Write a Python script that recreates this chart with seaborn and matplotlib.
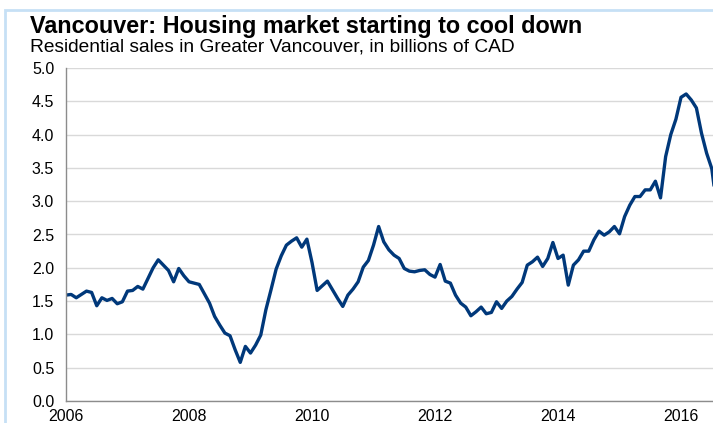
import numpy as np
import pandas as pd
import matplotlib
matplotlib.use("Agg")
import matplotlib.pyplot as plt
from matplotlib.patches import Rectangle
import seaborn as sns

# Monthly residential sales, Greater Vancouver (bn CAD)
years = list(range(2006, 2017))
sales_2006 = [1.59, 1.60, 1.55, 1.60, 1.65, 1.63, 1.43, 1.55, 1.51, 1.54, 1.46, 1.49]
sales_2007 = [1.65, 1.66, 1.72, 1.68, 1.84, 2.00, 2.12, 2.04, 1.96, 1.79, 1.99, 1.88]
sales_2008 = [1.79, 1.77, 1.75, 1.61, 1.47, 1.27, 1.14, 1.02, 0.98, 0.77, 0.58, 0.82]
sales_2009 = [0.72, 0.84, 0.99, 1.37, 1.67, 1.98, 2.18, 2.34, 2.40, 2.45, 2.31, 2.43]
sales_2010 = [2.08, 1.66, 1.73, 1.80, 1.67, 1.54, 1.42, 1.59, 1.68, 1.79, 2.01, 2.11]
sales_2011 = [2.34, 2.62, 2.39, 2.27, 2.19, 2.14, 1.99, 1.95, 1.94, 1.96, 1.97, 1.90]
sales_2012 = [1.86, 2.05, 1.80, 1.77, 1.59, 1.47, 1.41, 1.28, 1.34, 1.41, 1.31, 1.33]
sales_2013 = [1.49, 1.39, 1.50, 1.57, 1.68, 1.78, 2.04, 2.09, 2.16, 2.02, 2.14, 2.38]
sales_2014 = [2.14, 2.19, 1.74, 2.04, 2.12, 2.25, 2.25, 2.42, 2.55, 2.49, 2.54, 2.62]
sales_2015 = [2.51, 2.77, 2.94, 3.07, 3.07, 3.17, 3.17, 3.30, 3.05, 3.67, 4.00, 4.23]
sales_2016 = [4.56, 4.61, 4.52, 4.40, 4.02, 3.72, 3.49, 2.90]

by_year = [sales_2006, sales_2007, sales_2008, sales_2009, sales_2010, sales_2011,
           sales_2012, sales_2013, sales_2014, sales_2015, sales_2016]

rows = []
for yr, vals in zip(years, by_year):
    for m, v in enumerate(vals):
        rows.append({"t": yr + m / 12, "sales": v})
df = pd.DataFrame(rows)

x_ticks = [2006, 2008, 2010, 2012, 2014, 2016]
y_ticks = [0.0, 0.5, 1.0, 1.5, 2.0, 2.5, 3.0, 3.5, 4.0, 4.5, 5.0]

sns.set_style("white")
plt.rcParams["font.family"] = ["Liberation Sans", "DejaVu Sans"]

W, H = 713, 423
fig = plt.figure(figsize=(W / 100, H / 100), dpi=100)
ax = fig.add_axes([66 / W, 22 / H, (W - 66) / W, (401 - 68) / H])

sns.lineplot(data=df, x="t", y="sales", ax=ax, color="#00387a", linewidth=2.4)

ax.set_xlim(2006, 2016.52)
ax.set_ylim(0, 5.0)
ax.set_xticks(x_ticks)
ax.set_xticklabels([str(x) for x in x_ticks])
ax.set_yticks(y_ticks)
ax.set_yticklabels([f"{y:.1f}" for y in y_ticks])
ax.set_xlabel("")
ax.set_ylabel("")

ax.yaxis.grid(True, color="#d9d9d9", linewidth=1.0)
ax.set_axisbelow(True)
for side in ["top", "right"]:
    ax.spines[side].set_visible(False)
for side in ["left", "bottom"]:
    ax.spines[side].set_color("#8c8c8c")
    ax.spines[side].set_linewidth(1.0)
ax.tick_params(axis="y", direction="out", length=4.5, width=0.8,
               color="#8c8c8c", labelsize=11.5, labelcolor="black", pad=4)
ax.tick_params(axis="x", direction="out", length=2.5, width=0.8,
               color="#8c8c8c", labelsize=11.5, labelcolor="black", pad=3)

fig.text(30 / W, 1 - 33 / H, "Vancouver: Housing market starting to cool down",
         fontsize=16.8, fontweight="bold", color="black", ha="left", va="baseline")
fig.text(30 / W, 1 - 52 / H, "Residential sales in Greater Vancouver, in billions of CAD",
         fontsize=13.8, color="black", ha="left", va="baseline")

# light blue frame around the chart
fig.patches.append(Rectangle((5, -20), W + 40, H - 10 + 20, transform=None,
                             fill=False, edgecolor="#c6e0f5", linewidth=2))

fig.savefig("out.png", dpi=100)
